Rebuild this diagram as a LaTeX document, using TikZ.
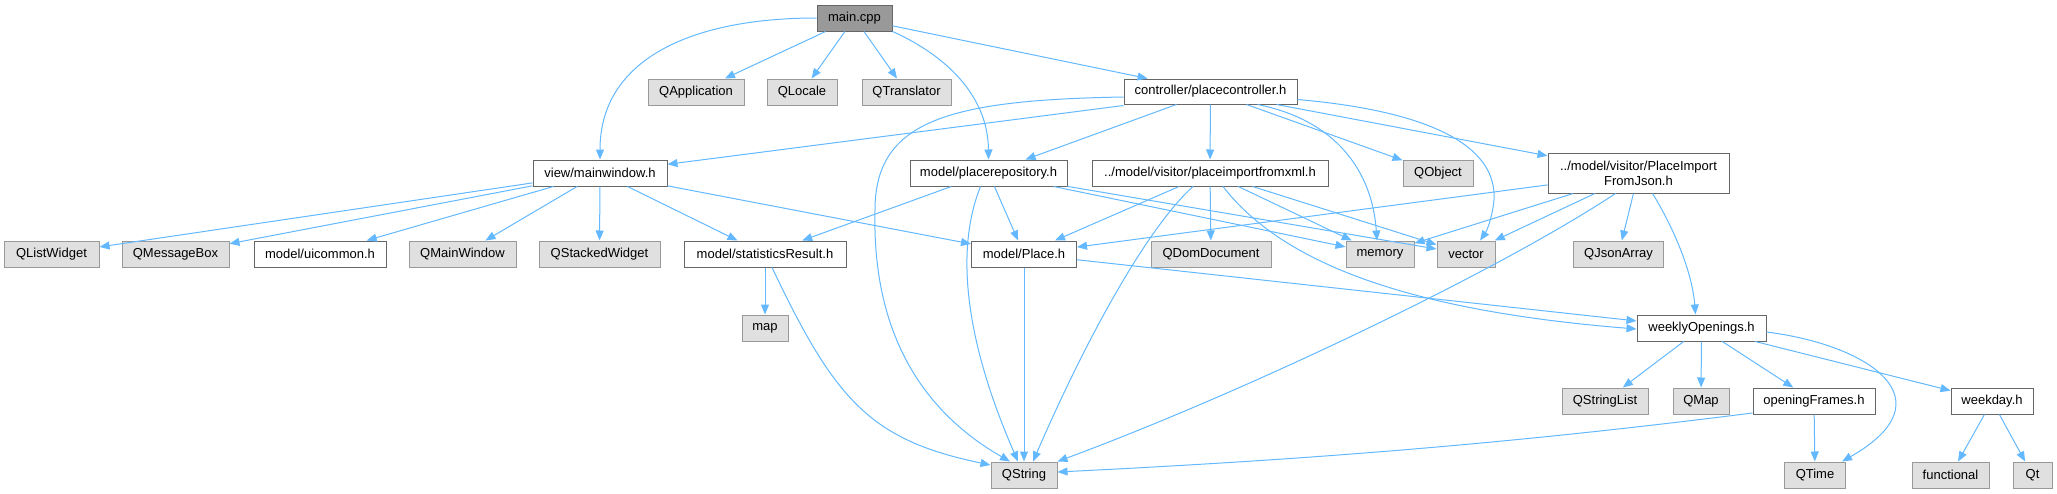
\documentclass[tikz,border=0pt]{standalone}
\usepackage{fontspec}
\setmainfont{Liberation Sans}
\usetikzlibrary{arrows.meta}
\definecolor{edgec}{HTML}{63B8FF}
\definecolor{bordw}{HTML}{666666}
\definecolor{bordg}{HTML}{999999}
\definecolor{fillg}{HTML}{E0E0E0}
\definecolor{fillm}{HTML}{999999}
\tikzset{
  box/.style={draw=bordw, fill=white, line width=1pt, inner sep=0pt, minimum height=26pt,
    font=\fontsize{13}{15}\selectfont, align=center},
  sys/.style={box, draw=bordg, fill=fillg},
  mainbox/.style={box, fill=fillm},
  e/.style={draw=edgec, line width=1pt, -{Triangle[length=10pt,width=8pt]}, color=edgec},
}
\begin{document}
\begin{tikzpicture}[x=1pt,y=-1pt]
\useasboundingbox (0,0) rectangle (2057,493);
% row 0
\node[mainbox, minimum width=75pt] (main) at (854.5,18) {main.cpp};
% row 1
\node[sys, minimum width=96pt] (qapp) at (696,92) {QApplication};
\node[sys, minimum width=70pt] (qloc) at (802,92) {QLocale};
\node[sys, minimum width=89pt] (qtr) at (906.5,92) {QTranslator};
\node[box, minimum width=173pt, minimum height=25pt] (ctrl) at (1210.5,91.5) {controller/placecontroller.h};
% row 2
\node[box, minimum width=134pt] (mw) at (600,173) {view/mainwindow.h};
\node[box, minimum width=157pt] (prep) at (988.5,173) {model/placerepository.h};
\node[box, minimum width=236pt] (xml) at (1210,173) {../model/visitor/placeimportfromxml.h};
\node[sys, minimum width=70pt] (qobj) at (1438,173) {QObject};
\node[box, minimum width=181pt, minimum height=40pt] (json) at (1638.5,173) {../model/visitor/PlaceImport\\FromJson.h};
% row 3
\node[sys, minimum width=95pt] (qlw) at (51.5,254) {QListWidget};
\node[sys, minimum width=107pt] (qmb) at (175.5,254) {QMessageBox};
\node[box, minimum width=132pt] (uic) at (320,254) {model/uicommon.h};
\node[sys, minimum width=107pt] (qmw) at (462.5,254) {QMainWindow};
\node[sys, minimum width=121pt] (qsw) at (599.5,254) {QStackedWidget};
\node[box, minimum width=162pt] (stat) at (765,254) {model/statisticsResult.h};
\node[box, minimum width=105pt] (place) at (1024,254) {model/Place.h};
\node[sys, minimum width=120pt] (qdom) at (1211,254) {QDomDocument};
\node[sys, minimum width=68pt] (mem) at (1380,254) {memory};
\node[sys, minimum width=58pt] (vec) at (1466,254) {vector};
\node[sys, minimum width=90pt] (qja) at (1618.5,254) {QJsonArray};
% row 4
\node[sys, minimum width=46pt] (map) at (765,328) {map};
\node[box, minimum width=129pt] (week) at (1701.5,328) {weeklyOpenings.h};
% row 5
\node[sys, minimum width=86pt] (qsl) at (1605,401) {QStringList};
\node[sys, minimum width=56pt] (qmap) at (1701,401) {QMap};
\node[box, minimum width=122pt] (ofr) at (1814,401) {openingFrames.h};
\node[box, minimum width=82pt] (wday) at (1992,401) {weekday.h};
% row 6
\node[sys, minimum width=66pt] (qstr) at (1024,475) {QString};
\node[sys, minimum width=61pt] (qtime) at (1815,475) {QTime};
\node[sys, minimum width=77pt] (func) at (1950.5,475) {functional};
\node[sys, minimum width=39pt] (qt) at (2032.5,475) {Qt};

% main.cpp edges
\draw[e] (main.west) .. controls (690,18) and (600,60) .. (mw.north);
\draw[e] (main) -- (qapp);
\draw[e] (main) -- (qloc);
\draw[e] (main) -- (qtr);
\draw[e] (main.south east) .. controls (945,55) and (988,95) .. (prep.north);
\draw[e] (main) -- (ctrl);

% controller edges
\draw[e] ([yshift=-1pt]ctrl.south west) -- (mw);
\draw[e] ([yshift=-5.5pt]ctrl.west) .. controls (950,100) and (875,120) .. (875,210)
   .. controls (872,330) and (920,410) .. ([xshift=-14pt]qstr.north);
\draw[e] ([xshift=-34pt]ctrl.south) -- (prep);
\draw[e] (ctrl) -- (xml);
\draw[e] ([xshift=47pt]ctrl.south) .. controls (1335,120) and (1372,170) .. ([xshift=-3pt]mem.north);
\draw[e] ([xshift=36pt]ctrl.south) -- (qobj);
\draw[e] ([yshift=-8pt]ctrl.east) .. controls (1440,112) and (1497,150) .. (1494,200)
   .. controls (1492,220) and (1486,232) .. ([xshift=14pt]vec.north);
\draw[e] ([xshift=66pt]ctrl.south) -- (json);

% mainwindow edges
\draw[e] (mw) -- (qlw);
\draw[e] (mw) -- (qmb);
\draw[e] (mw) -- (uic);
\draw[e] (mw) -- (qmw);
\draw[e] (mw) -- (qsw);
\draw[e] (mw) -- (stat);
\draw[e] (mw) -- (place);

% placerepository edges
\draw[e] (prep) -- (stat);
\draw[e] ([xshift=-8pt]prep.south) .. controls (955,250) and (965,340) .. ([xshift=-6pt]qstr.north);
\draw[e] (prep) -- (place);
\draw[e] (prep) -- (mem);
\draw[e] (prep) -- (vec);

% placeimportfromxml edges
\draw[e] (xml) -- (place);
\draw[e] (xml) -- (qdom);
\draw[e] (xml) -- (mem);
\draw[e] (xml) -- (vec);
\draw[e] ([xshift=-17pt]xml.south) .. controls (1150,225) and (1090,330) .. ([xshift=9pt]qstr.north);
\draw[e] ([xshift=13pt]xml.south) .. controls (1280,260) and (1400,310) .. ([yshift=-1pt]week.west);

% PlaceImportFromJson edges
\draw[e] (json) -- (place);
\draw[e] (json) -- (mem);
\draw[e] (json) -- (vec);
\draw[e] (json) -- (qja);
\draw[e] ([xshift=14pt]json.south) .. controls (1672,225) and (1692,270) .. ([xshift=-6pt]week.north);
\draw[e] ([xshift=-23pt]json.south) .. controls (1500,270) and (1250,390) .. (qstr.north east);

% statisticsResult edges
\draw[e] (stat) -- (map);
\draw[e] ([xshift=7pt]stat.south) .. controls (835,400) and (870,440) .. ([yshift=10pt]qstr.west);

% Place.h edges
\draw[e] (place) -- (qstr);
\draw[e] (place) -- (week);

% weeklyOpenings edges
\draw[e] (week) -- (qsl);
\draw[e] (week) -- (qmap);
\draw[e] (week) -- (ofr);
\draw[e] (week) -- (wday);
\draw[e] ([yshift=-4pt]week.east) .. controls (1870,345) and (1950,400) .. ([xshift=-4pt]qtime.north east);

% openingFrames edges
\draw[e] (ofr) -- (qtime);
\draw[e] ([yshift=-12pt]ofr.west) .. controls (1500,445) and (1300,460) .. ([yshift=3pt]qstr.east);

% weekday edges
\draw[e] (wday) -- (func);
\draw[e] (wday) -- (qt);
\end{tikzpicture}
\end{document}
